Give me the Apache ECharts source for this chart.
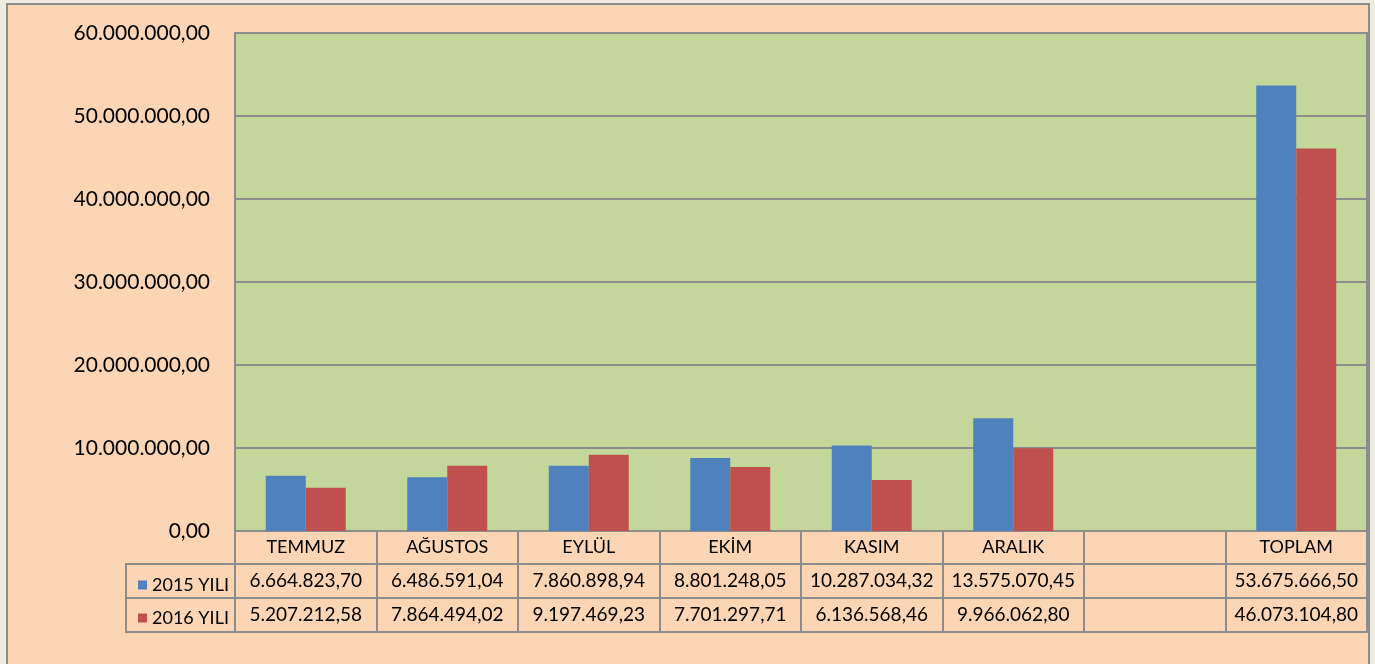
<!DOCTYPE html>
<html>
<head>
<meta charset="utf-8">
<script src="https://cdn.jsdelivr.net/npm/echarts@6/dist/echarts.min.js"></script>
<style>
html,body{margin:0;padding:0;width:1375px;height:664px;overflow:hidden;background:#EEECE1;}
#frame{position:absolute;left:6px;top:3px;width:1360px;height:700px;background:#FCD5B4;border:2px solid #8c8c8c;}
#chart{position:absolute;left:0;top:0;width:1375px;height:664px;}
</style>
</head>
<body>
<div id="frame"></div>
<div id="chart"></div>
<script>
const categories = ['TEMMUZ','AĞUSTOS','EYLÜL','EKİM','KASIM','ARALIK','','TOPLAM'];
const seriesNames = ['2015 YILI','2016 YILI'];
const values2015 = [6664823.70, 6486591.04, 7860898.94, 8801248.05, 10287034.32, 13575070.45, null, 53675666.50];
const values2016 = [5207212.58, 7864494.02, 9197469.23, 7701297.71, 6136568.46, 9966062.80, null, 46073104.80];
const yMin = 0, yMax = 60000000, yStep = 10000000;
const colors = ['#4F81BD', '#C0504D'];

function fmt(v){
  if (v == null || v === '') return '';
  const parts = Number(v).toFixed(2).split('.');
  return parts[0].replace(/\B(?=(\d{3})+(?!\d))/g, '.') + ',' + parts[1];
}

const FONT = 'Lato';
const lineColor = '#8c8c8c';
const G = {left: 235, top: 33, right: 8, height: 498};
const rowH = [33, 34, 34];
const gridBottom = G.top + G.height;

const chart = echarts.init(document.getElementById('chart'), null, {renderer: 'canvas'});

function tableAxis(offset, tickLen, formatter, showLabel, fs){
  return {
    type: 'category', data: categories, gridIndex: 0, position: 'bottom', offset: offset,
    boundaryGap: true,
    axisLine: {show: true, lineStyle: {color: lineColor, width: 2}},
    axisTick: {show: tickLen > 0, interval: 0, length: tickLen, alignWithLabel: false, lineStyle: {color: lineColor, width: 2}},
    axisLabel: {show: showLabel, interval: 0, margin: tickLen / 2, verticalAlign: 'middle',
      fontFamily: FONT, fontSize: fs || 19, color: '#000', formatter: formatter},
    splitLine: {show: false}
  };
}

const off1 = rowH[0], off2 = rowH[0] + rowH[1], off3 = rowH[0] + rowH[1] + rowH[2];

const option = {
  animation: false,
  backgroundColor: 'transparent',
  grid: {left: G.left, top: G.top, right: G.right, height: G.height, show: true,
    backgroundColor: '#C4D79B', borderColor: lineColor, borderWidth: 2, containLabel: false},
  legend: {
    orient: 'vertical', left: 133, top: G.top + G.height + rowH[0] + 5,
    itemWidth: 9, itemHeight: 9, itemGap: 11, icon: 'rect',
    textStyle: {fontFamily: FONT, fontSize: 18, color: '#000', lineHeight: 22},
    data: seriesNames
  },
  xAxis: [
    tableAxis(0, rowH[0], function(v){ return v; }, true, 18),
    tableAxis(off1, rowH[1], function(v, i){ return fmt(values2015[i]); }, true, 19),
    tableAxis(off2, rowH[2], function(v, i){ return fmt(values2016[i]); }, true, 19),
    tableAxis(off3, 0, null, false)
  ],
  yAxis: {
    type: 'value', min: yMin, max: yMax, interval: yStep,
    axisLine: {show: false}, axisTick: {show: false},
    axisLabel: {margin: 25, fontFamily: FONT, fontSize: 21, color: '#000', formatter: function(v){ return fmt(v); }},
    splitLine: {show: true, lineStyle: {color: lineColor, width: 2}}
  },
  series: [
    {name: seriesNames[0], type: 'bar', xAxisIndex: 0, data: values2015, barWidth: 40, barGap: '0%',
      itemStyle: {color: colors[0]}},
    {name: seriesNames[1], type: 'bar', xAxisIndex: 0, data: values2016, barWidth: 40, barGap: '0%',
      itemStyle: {color: colors[1]}}
  ],
  graphic: [
    {type: 'rect', silent: true,
      shape: {x: 126, y: gridBottom + off1, width: G.left - 126, height: rowH[1] + rowH[2]},
      style: {fill: null, stroke: lineColor, lineWidth: 2}},
    {type: 'line', silent: true,
      shape: {x1: 126, y1: gridBottom + off2, x2: G.left, y2: gridBottom + off2},
      style: {stroke: lineColor, lineWidth: 2}}
  ]
};
chart.setOption(option);
</script>
</body>
</html>
